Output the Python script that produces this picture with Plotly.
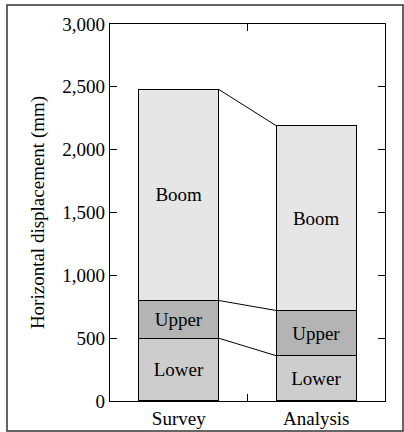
import plotly.graph_objects as go

# Displacement components (mm) for each case
cases = ["Survey", "Analysis"]
lower = [500, 360]
upper = [300, 360]
boom = [1680, 1470]

components = ["Lower", "Upper", "Boom"]
colors = {"Lower": "#cdcdcd", "Upper": "#b4b4b4", "Boom": "#e6e6e6"}
values = {"Lower": lower, "Upper": upper, "Boom": boom}

font_family = "Liberation Serif"
fsize = 19
bar_width = 0.58

fig = go.Figure()
for name in components:
    fig.add_trace(go.Bar(
        x=cases,
        y=values[name],
        name=name,
        width=bar_width,
        marker=dict(color=colors[name], line=dict(color="black", width=1.2)),
        text=[name] * len(cases),
        textposition="inside",
        insidetextanchor="middle",
        textfont=dict(family=font_family, size=fsize, color="black"),
        textangle=0,
        constraintext="none",
        hoverinfo="skip",
    ))

# Connector lines between corresponding segment tops
tops_survey = [lower[0], lower[0] + upper[0], lower[0] + upper[0] + boom[0]]
tops_analysis = [lower[1], lower[1] + upper[1], lower[1] + upper[1] + boom[1]]
shapes = []
for a, b in zip(tops_survey, tops_analysis):
    shapes.append(dict(type="line", xref="x", yref="y",
                       x0=0 + bar_width / 2, x1=1 - bar_width / 2,
                       y0=a, y1=b, line=dict(color="black", width=1)))

# Outer frame around the whole figure
L, R, T, B = 110, 19, 24, 31
W, H = 404, 432
pw, ph = W - L - R, H - T - B
shapes.append(dict(type="rect", xref="paper", yref="paper",
                   x0=(7 - L) / pw, x1=(403 - L) / pw,
                   y0=(H - 431 - B) / ph, y1=(H - 5 - B) / ph,
                   line=dict(color="#333333", width=1.5), layer="below"))

fig.update_layout(
    width=W, height=H,
    margin=dict(l=L, r=R, t=T, b=B, autoexpand=False),
    barmode="stack",
    bargap=0.42,
    showlegend=False,
    uniformtext=dict(mode=False),
    plot_bgcolor="white",
    paper_bgcolor="white",
    font=dict(family=font_family, size=fsize, color="black"),
    shapes=shapes,
    xaxis=dict(
        type="category",
        range=[-0.5, 1.5],
        tickson="boundaries",
        ticks="inside",
        ticklen=7,
        tickcolor="black",
        showline=True,
        linecolor="black",
        linewidth=1.2,
        mirror="ticks",
        showgrid=False,
        automargin=False,
        tickfont=dict(family=font_family, size=fsize),
    ),
    yaxis=dict(
        range=[0, 3000],
        dtick=500,
        tickformat=",d",
        ticks="inside",
        ticklen=7,
        tickcolor="black",
        showline=True,
        linecolor="black",
        linewidth=1.2,
        mirror="ticks",
        showgrid=False,
        zeroline=False,
        automargin=False,
        tickfont=dict(family=font_family, size=fsize),
        title=dict(text="Horizontal displacement (mm)",
                   font=dict(family=font_family, size=fsize),
                   standoff=12),
    ),
)

fig.write_html("out.html")
